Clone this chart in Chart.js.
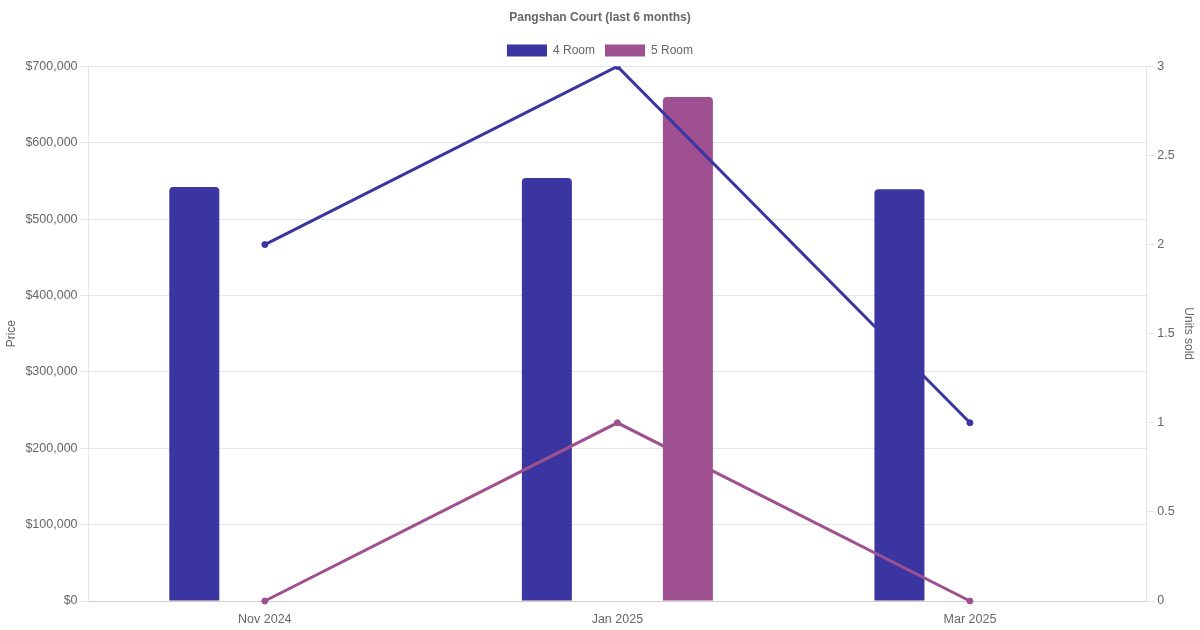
<!DOCTYPE html>
<html>
<head>
<meta charset="utf-8">
<script src="https://cdn.jsdelivr.net/npm/chart.js@4"></script>
<style>
  html, body { margin: 0; padding: 0; background: #fff; }
  #wrap { width: 1200px; height: 630px; }
</style>
</head>
<body>
<div id="wrap"><canvas id="pangshanChart"></canvas></div>
<script>
const months = ["Nov 2024", "Jan 2025", "Mar 2025"];
const price4Room = [542000, 554000, 539000];
const price5Room = [null, 660000, null];
const units4Room = [2, 3, 1];
const units5Room = [0, 1, 0];

const color4 = "rgb(58, 53, 160)";
const color5 = "rgb(159, 80, 145)";

Chart.defaults.font.family = "'Liberation Sans', Arial, sans-serif";
Chart.defaults.color = "#666";

const tickFont = { size: 12.5 };

new Chart(document.getElementById("pangshanChart").getContext("2d"), {
  type: "bar",
  data: {
    labels: months,
    datasets: [
      {
        label: "4 Room",
        data: price4Room,
        backgroundColor: color4,
        borderRadius: 4,
        maxBarThickness: 50,
        yAxisID: "y",
        order: 2
      },
      {
        label: "5 Room",
        data: price5Room,
        backgroundColor: color5,
        borderRadius: 4,
        maxBarThickness: 50,
        yAxisID: "y",
        order: 2
      },
      {
        type: "line",
        label: "4 Room units",
        data: units4Room,
        borderColor: color4,
        backgroundColor: color4,
        borderWidth: 3,
        pointRadius: 3,
        pointBorderWidth: 1,
        yAxisID: "y1",
        order: 1
      },
      {
        type: "line",
        label: "5 Room units",
        data: units5Room,
        borderColor: color5,
        backgroundColor: color5,
        borderWidth: 3,
        pointRadius: 3,
        pointBorderWidth: 1,
        yAxisID: "y1",
        order: 1
      }
    ]
  },
  options: {
    responsive: true,
    maintainAspectRatio: false,
    animation: false,
    plugins: {
      title: {
        display: true,
        text: "Pangshan Court (last 6 months)",
        font: { size: 12, weight: "bold" }
      },
      legend: {
        labels: {
          filter: (item) => item.datasetIndex < 2
        }
      }
    },
    scales: {
      x: {
        grid: { display: false },
        ticks: { font: tickFont }
      },
      y: {
        position: "left",
        beginAtZero: true,
        max: 700000,
        ticks: {
          stepSize: 100000,
          font: tickFont,
          callback: (v) => "$" + v.toLocaleString("en-US")
        },
        title: { display: true, text: "Price" }
      },
      y1: {
        position: "right",
        beginAtZero: true,
        max: 3,
        ticks: {
          stepSize: 0.5,
          font: tickFont,
          callback: (v) => String(v)
        },
        grid: { drawOnChartArea: false },
        title: { display: true, text: "Units sold" }
      }
    }
  }
});
</script>
</body>
</html>
